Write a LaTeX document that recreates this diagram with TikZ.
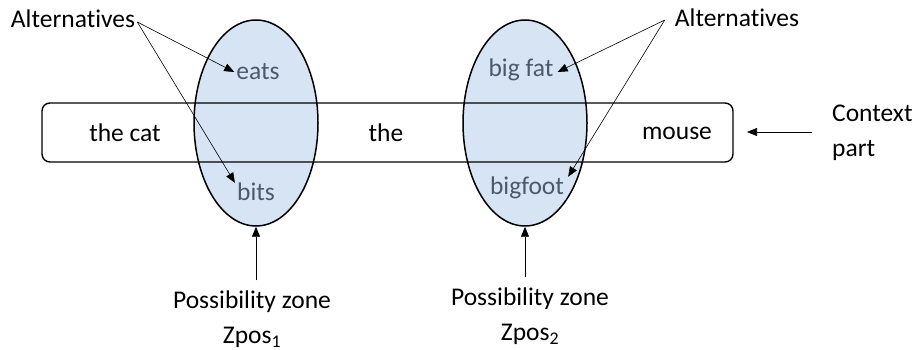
\documentclass[tikz,border=0pt]{standalone}
\usepackage{fontspec}
\setmainfont{Carlito}[Ligatures=NoCommon,Contextuals=NoAlternate]
\usetikzlibrary{shapes.geometric,arrows.meta,calc}
\definecolor{zonefill}{HTML}{D6E4F3}
\definecolor{alttext}{HTML}{4A5A6C}

\begin{document}
\begin{tikzpicture}[x=1pt,y=1pt,
		zone/.style={ellipse,draw,line width=1.5pt,fill=zonefill,minimum width=124pt,minimum height=206pt,inner sep=0pt},
		ctxbox/.style={draw,line width=1.4pt,rounded corners=8pt,minimum width=691pt,minimum height=59pt},
		word/.style={inner sep=2pt,font=\fontsize{25.5}{30}\selectfont},
		alt/.style={word,text=alttext},
		arr/.style={-{Triangle[length=10pt,width=8pt]},line width=0.6pt}]
	\useasboundingbox (0,0) rectangle (917,350);
	% possibility zones
	\node[zone] (z1) at (256,227) {};
	\node[zone] (z2) at (525,227) {};
	% context part
	\node[ctxbox] (ctx) at (387.5,217.5) {};
	\node[word] (cat) at (125,217) {the cat};
	\node[word] (the) at (386,217) {the};
	\node[word] (mouse) at (677,217) {mouse};
	% alternatives
	\node[alt] (eats) at (258,278) {eats};
	\node[alt] (bits) at (256,158) {bits};
	\node[alt] (bigfat) at (521,280) {big fat};
	\node[alt] (bigfoot) at (527,162) {bigfoot};
	% labels
	\node[word] (altL) at (73,331) {Alternatives};
	\node[word] (altR) at (737,332) {Alternatives};
	\node[word,align=left,anchor=west,font=\fontsize{25.5}{35}\selectfont] (ctxlab) at (830,217) {Context\\part};
	\node[word,align=center,font=\fontsize{25.5}{35}\selectfont] (pz1) at (252,31) {Possibility zone\\Zpos\textsubscript{1}};
	\node[word,align=center,font=\fontsize{25.5}{35}\selectfont] (pz2) at (530,34) {Possibility zone\\Zpos\textsubscript{2}};
	\coordinate (ctxtail) at (812,218);
	\coordinate (ctxtip) at (747,218);
	%
	\draw[arr] ([yshift=-3pt]altL.east) -- (eats.west);
	\draw[arr] ([yshift=-3pt]altL.east) -- ([yshift=-2pt]bits.north west);
	\draw[arr] ([xshift=-8pt,yshift=-2pt]altR.west) -- ([xshift=2pt,yshift=-2pt]bigfat.east);
	\draw[arr] ([xshift=-8pt,yshift=-2pt]altR.west) -- ([xshift=2pt,yshift=-2pt]bigfoot.north east);
	\draw[arr] (ctxtail) -- (ctxtip);
	\draw[arr] ([yshift=8pt]pz1.north -| z1.south) -- (z1.south);
	\draw[arr] ([yshift=8pt]pz2.north -| z2.south) -- (z2.south);
\end{tikzpicture}
\end{document}
